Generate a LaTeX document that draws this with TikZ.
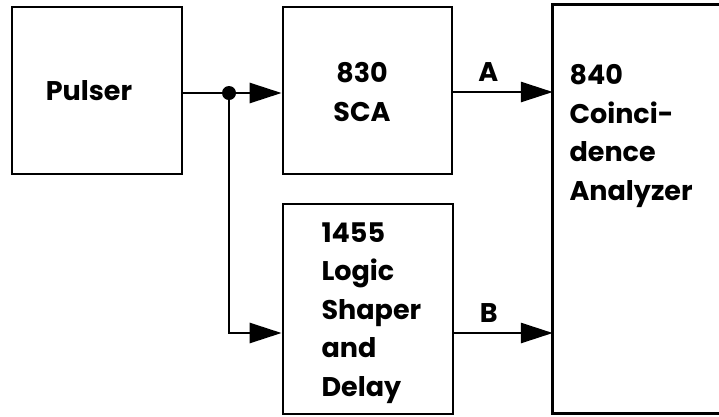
\documentclass[tikz,border=0pt]{standalone}
\usepackage{fontspec}
\setmainfont{Poppins}
\usetikzlibrary{arrows.meta}
\begin{document}
\begin{tikzpicture}[x=1pt,y=-1pt,
  blk/.style={draw,line width=2.8pt,inner sep=0pt},
  lbl/.style={font=\fontsize{27}{38.5}\selectfont\bfseries},
  sig/.style={line width=2.8pt,-{Triangle[length=32pt,width=20pt]}},
  wire/.style={line width=2.8pt}]
\useasboundingbox (0,0) rectangle (719,416);
\clip (0,0) rectangle (719,416);
\node[blk,minimum width=170pt,minimum height=167pt] (pulser) at (97,90.5) {};
\node[lbl] at (89,90.5) {Pulser};
\node[blk,minimum width=169pt,minimum height=167pt] (sca) at (367.5,90.5) {};
\node[lbl,align=center] at (362,92) {830\\SCA};
\node[blk,minimum width=170pt,minimum height=210pt] (lsd) at (368,309) {};
\node[lbl,align=left,anchor=north west] (lsdtxt) at (318,219) {1455\\Logic\\Shaper\\and\\Delay};
\node[minimum width=200pt,minimum height=408pt,inner sep=0pt] (coinc) at (653,209) {};
\draw[line width=2.8pt] (coinc.north east) -- (coinc.north west) -- (coinc.south west) -- (coinc.south east);
\node[lbl,align=left,anchor=north west] (ctxt) at (566,61) {840\\Coinci-\\dence\\Analyzer};
\coordinate (split) at (229,93);
\coordinate (bend) at (229,333);
\draw[wire] (pulser.east |- split) -- (split);
\draw[sig] (split) -- (sca.west |- split);
\draw[sig] (split) -- (bend) -- (lsd.west |- bend);
\fill (split) circle (7pt);
\draw[sig] (sca.east |- 0,92) -- node[lbl,above=6pt,pos=0.35] (la) {A} (coinc.west |- 0,92);
\draw[sig] (lsd.east |- bend) -- node[lbl,above=6pt,pos=0.35] (lb) {B} (coinc.west |- bend);
\end{tikzpicture}
\end{document}
